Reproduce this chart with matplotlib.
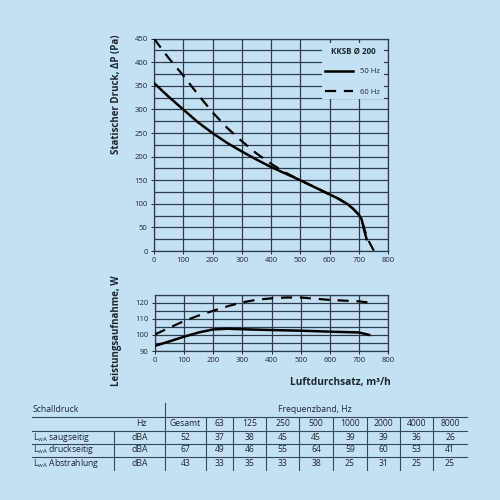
import numpy as np
import matplotlib
matplotlib.use("Agg")
import matplotlib.pyplot as plt
from matplotlib.lines import Line2D

# ---- data ----
flow_50 = [0, 50, 100, 150, 200, 250, 300, 350, 400, 450, 500, 550, 600, 630, 660, 680, 700, 710, 718, 727]
dp_50 = [356, 327, 300, 273, 250, 229, 211, 194, 178, 164, 150, 135, 120, 111, 100, 90, 77, 67, 45, 25]
flow_60 = [0, 50, 100, 150, 200, 250, 300, 350, 400, 450, 500, 550, 600, 630, 660, 680, 700, 710, 720, 735, 752]
dp_60 = [450, 409, 372, 332, 294, 261, 233, 207, 185, 166, 150, 135, 120, 111, 100, 90, 77, 66, 45, 20, 0]

pw_flow_50 = [0, 50, 100, 150, 200, 250, 300, 400, 500, 600, 700, 735]
pw_50 = [93.2, 96.0, 98.9, 101.5, 103.4, 103.8, 103.5, 103.0, 102.6, 102.0, 101.5, 100.0]
pw_flow_60 = [0, 50, 100, 150, 200, 250, 300, 350, 400, 450, 500, 600, 700, 750]
pw_60 = [100.3, 104.5, 108.6, 112.0, 115.0, 117.8, 120.2, 121.8, 122.7, 123.2, 123.2, 121.7, 120.8, 119.8]

freq_labels = ["Gesamt", "63", "125", "250", "500", "1000", "2000", "4000", "8000"]
row_names = ["saugseitig", "druckseitig", "Abstrahlung"]
lwa_saug = [52, 37, 38, 45, 45, 39, 39, 36, 26]
lwa_druck = [67, 49, 46, 55, 64, 59, 60, 53, 41]
lwa_abstr = [43, 33, 35, 33, 38, 25, 31, 25, 25]

BG = "#c4e1f4"
INK = "#1c2733"
GRID = "#2b3d4c"

plt.rcParams['font.family'] = ['Open Sans', 'DejaVu Sans']

fig = plt.figure(figsize=(5, 5), dpi=100, facecolor=BG)


def style_axes(ax):
    ax.set_facecolor(BG)
    for s in ax.spines.values():
        s.set_color(GRID)
        s.set_linewidth(0.9)
    ax.tick_params(axis='both', labelsize=5.5, colors=INK, length=2.5, width=0.7, pad=2)
    ax.grid(True, which='both', color=GRID, linewidth=0.9)
    ax.set_axisbelow(True)


# ---- pressure curve ----
ax1 = fig.add_axes([0.308, 0.498, 0.468, 0.4246])
style_axes(ax1)
ax1.plot(flow_50, dp_50, color='black', lw=1.8, label='50 Hz', zorder=3)
ax1.plot(flow_60, dp_60, color='black', lw=1.6, ls=(0, (5, 3.5)), label='60 Hz', zorder=3)
ax1.set_xlim(0, 800)
ax1.set_ylim(0, 450)
ax1.set_xticks(np.arange(0, 801, 100))
ax1.set_yticks(np.arange(0, 451, 50))
ax1.set_yticks(np.arange(25, 450, 50), minor=True)
ax1.tick_params(axis='y', which='minor', length=0)
leg = ax1.legend(title='KKSB Ø 200', loc='upper right', fontsize=5.5,
                 title_fontproperties={'size': 5.8, 'weight': 'bold'},
                 frameon=True, facecolor=BG, edgecolor='none', framealpha=1, handlelength=3.6,
                 borderaxespad=0.5, labelspacing=1.7, fancybox=False, handletextpad=1.0,
                 borderpad=0.5)
leg.get_title().set_color(INK)
leg._legend_box.sep = 9
for t in leg.get_texts():
    t.set_color(INK)

# ---- power curve ----
ax2 = fig.add_axes([0.31, 0.298, 0.466, 0.1128])
style_axes(ax2)
ax2.plot(pw_flow_50, pw_50, color='black', lw=1.8, zorder=3)
ax2.plot(pw_flow_60, pw_60, color='black', lw=1.6, ls=(0, (5, 3.5)), zorder=3)
ax2.set_xlim(0, 800)
ax2.set_ylim(90, 125)
ax2.set_xticks(np.arange(0, 801, 100))
ax2.set_yticks([90, 100, 110, 120])
ax2.set_yticks([95, 105, 115, 125], minor=True)
ax2.tick_params(axis='y', which='minor', length=0)

fig.text(0.232, 0.812, 'Statischer Druck, ΔP (Pa)', rotation=90, ha='center', va='center',
         fontsize=7, fontweight='bold', color=INK)
fig.text(0.232, 0.338, 'Leistungsaufnahme, W', rotation=90, ha='center', va='center',
         fontsize=7, fontweight='bold', color=INK)
fig.text(0.782, 0.236, 'Luftdurchsatz, m³/h', ha='right', va='center',
         fontsize=7.3, fontweight='bold', color=INK)

# ---- sound table ----
def fx(px):
    return px / 500


def fy(py):
    return 1 - py / 500


col_edges = [165, 206, 233, 266, 299, 333, 367, 400, 433, 467]
row_mid = [410, 424, 437.5, 450, 463]
hlines = [416.7, 431, 444, 456.5]
tfs = 6.2
TL = "#34495a"

for y in hlines:
    fig.add_artist(Line2D([fx(32), fx(467)], [fy(y), fy(y)], color=TL, lw=0.8))
fig.add_artist(Line2D([fx(165), fx(165)], [fy(403), fy(470)], color=TL, lw=0.8))
for x in col_edges[1:-1]:
    fig.add_artist(Line2D([fx(x), fx(x)], [fy(418), fy(470)], color=TL, lw=0.8))
fig.add_artist(Line2D([fx(114), fx(114)], [fy(432), fy(470)], color=TL, lw=0.8))

fig.text(fx(33), fy(row_mid[0]), 'Schalldruck', ha='left', va='center', fontsize=tfs, color=INK)
fig.text(fx(315), fy(row_mid[0]), 'Frequenzband, Hz', ha='center', va='center', fontsize=tfs, color=INK)
fig.text(fx(147), fy(row_mid[1]), 'Hz', ha='right', va='center', fontsize=tfs, color=INK)
for i, lab in enumerate(freq_labels):
    cx = (col_edges[i] + col_edges[i + 1]) / 2
    fig.text(fx(cx), fy(row_mid[1]), lab, ha='center', va='center', fontsize=tfs, color=INK)

for r, (name, vals) in enumerate(zip(row_names, [lwa_saug, lwa_druck, lwa_abstr])):
    y = fy(row_mid[r + 2])
    fig.text(fx(33), y, r'L$_{\mathregular{wA}}$ ' + name, ha='left', va='center', fontsize=tfs, color=INK)
    fig.text(fx(140), y, 'dBA', ha='center', va='center', fontsize=tfs, color=INK)
    for i, v in enumerate(vals):
        cx = (col_edges[i] + col_edges[i + 1]) / 2
        fig.text(fx(cx), y, str(v), ha='center', va='center', fontsize=tfs, color=INK)

fig.savefig('out.png', dpi=100, facecolor=BG)
